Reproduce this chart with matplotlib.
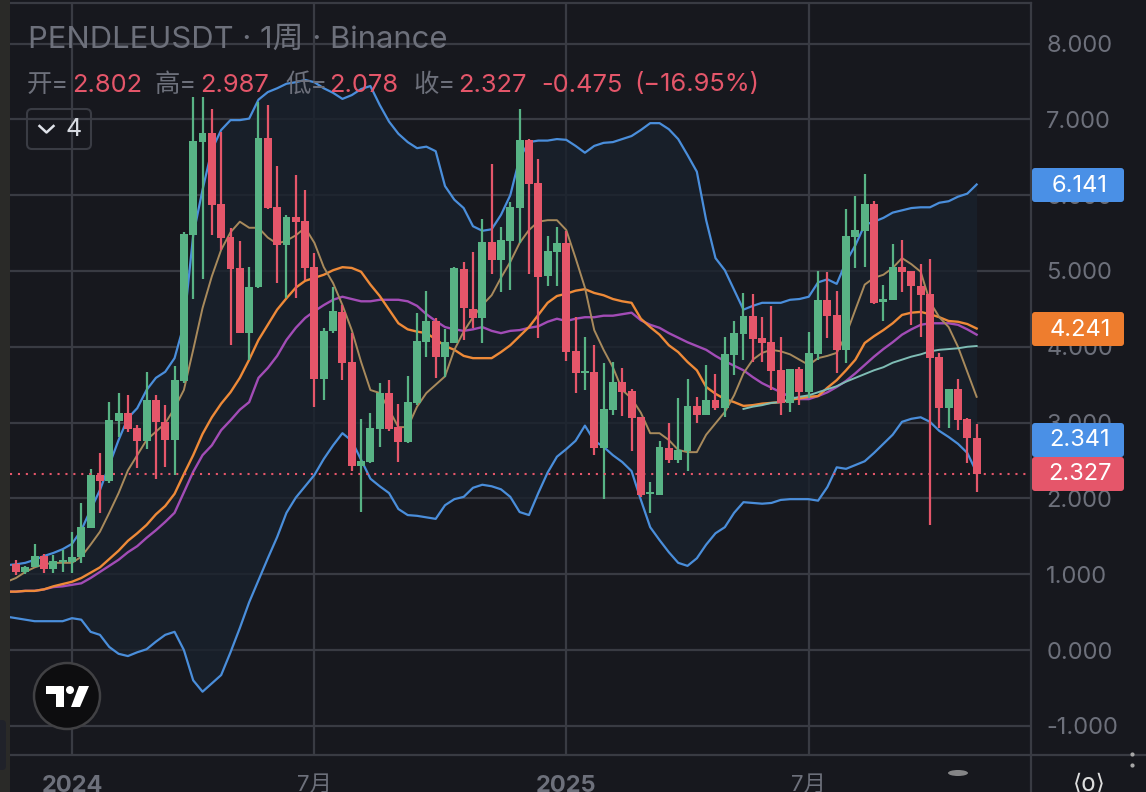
import matplotlib
matplotlib.use("Agg")
import matplotlib.pyplot as plt
import numpy as np
from matplotlib.patches import Circle, Ellipse, FancyBboxPatch, Polygon

plt.rcParams["font.family"] = ["Inter", "Noto Sans CJK SC", "DejaVu Sans"]

# weekly candles
opens = [1.13, 1.03, 1.09, 1.24, 1.07, 1.16, 1.16, 1.23, 1.61, 2.31,
         2.23, 3.02, 3.13, 2.93, 2.76, 3.30, 3.01, 2.77, 3.55, 5.47,
         6.70, 6.82, 5.88, 5.45, 5.04, 4.18, 4.79, 6.75, 5.84, 5.34,
         5.71, 5.66, 5.05, 3.58, 4.21, 4.46, 3.80, 2.43, 2.48, 2.92,
         3.39, 2.94, 2.74, 3.26, 4.06, 4.34, 3.87, 4.05, 5.03, 4.50,
         4.38, 5.38, 5.15, 5.40, 5.83, 6.73, 6.16, 4.93, 5.25, 5.37,
         3.94, 3.65, 3.67, 2.66, 3.17, 3.54, 3.42, 3.07, 2.06, 2.04,
         2.66, 2.51, 2.63, 3.22, 3.10, 3.30, 3.19, 3.89, 4.17, 4.41,
         4.12, 4.06, 3.69, 3.26, 3.71, 3.40, 3.90, 4.62, 4.42, 3.96,
         5.45, 5.53, 5.88, 4.59, 4.62, 5.05, 5.00, 4.80, 4.70, 3.87,
         3.19, 3.44, 3.05, 2.802]
highs = [1.19, 1.11, 1.40, 1.27, 1.25, 1.32, 1.56, 1.94, 2.39, 2.60,
         3.27, 3.39, 3.36, 2.97, 3.67, 3.36, 3.23, 3.75, 5.51, 7.30,
         7.30, 7.14, 6.83, 5.57, 5.39, 5.05, 7.23, 7.19, 6.39, 5.74,
         6.27, 6.07, 5.24, 4.25, 4.79, 4.55, 4.18, 3.05, 3.13, 3.52,
         3.56, 3.25, 3.61, 4.45, 4.74, 4.38, 4.23, 5.05, 5.12, 5.25,
         5.69, 6.41, 5.58, 5.91, 7.14, 6.74, 6.48, 5.46, 5.58, 5.53,
         4.39, 4.13, 4.02, 3.79, 3.80, 3.72, 3.44, 3.07, 2.22, 2.76,
         2.99, 3.32, 3.58, 3.34, 3.76, 3.64, 4.13, 4.34, 4.71, 4.70,
         4.39, 4.54, 4.13, 3.71, 3.73, 4.20, 5.00, 4.99, 4.74, 5.82,
         5.99, 6.28, 5.92, 4.82, 5.36, 5.41, 5.00, 5.09, 5.16, 3.92,
         3.44, 3.58, 3.06, 2.987]
lows = [0.99, 1.00, 1.09, 1.02, 1.02, 1.03, 1.02, 1.15, 1.61, 1.81,
        2.20, 2.81, 2.88, 2.40, 2.65, 2.26, 2.41, 2.31, 3.52, 4.63,
        4.89, 5.47, 5.28, 4.02, 4.18, 3.83, 4.78, 5.82, 4.84, 4.64,
        4.64, 4.88, 3.21, 3.30, 4.18, 3.56, 2.36, 1.82, 2.47, 2.68,
        2.89, 2.48, 2.73, 3.23, 3.87, 3.59, 3.60, 4.05, 4.09, 4.25,
        4.05, 4.96, 4.72, 4.75, 5.37, 4.96, 4.12, 4.80, 4.80, 3.81,
        3.39, 3.43, 2.57, 1.99, 3.10, 3.09, 2.63, 2.02, 1.81, 2.04,
        2.47, 2.47, 2.36, 2.99, 3.10, 3.17, 3.07, 3.63, 3.83, 3.80,
        3.80, 3.43, 3.10, 3.14, 3.23, 3.32, 3.83, 4.12, 3.65, 3.79,
        5.04, 5.05, 4.56, 4.34, 4.62, 4.72, 4.29, 4.13, 1.65, 2.93,
        2.93, 2.90, 2.47, 2.078]
closes = [1.03, 1.09, 1.24, 1.07, 1.17, 1.19, 1.23, 1.62, 2.31, 2.23,
          3.03, 3.13, 2.92, 2.76, 3.30, 3.01, 2.77, 3.56, 5.49, 6.72,
          6.82, 5.87, 5.44, 5.03, 4.18, 4.79, 6.75, 5.83, 5.34, 5.71,
          5.65, 5.04, 3.58, 4.21, 4.47, 3.79, 2.43, 2.49, 2.93, 3.39,
          2.92, 2.74, 3.27, 4.08, 4.34, 3.87, 4.06, 5.04, 4.51, 4.38,
          5.38, 5.15, 5.41, 5.84, 6.73, 6.15, 4.92, 5.26, 5.37, 3.93,
          3.65, 3.68, 2.66, 3.18, 3.54, 3.40, 3.06, 2.04, 2.08, 2.68,
          2.51, 2.64, 3.22, 3.10, 3.30, 3.19, 3.90, 4.18, 4.41, 4.10,
          4.05, 3.68, 3.26, 3.71, 3.40, 3.92, 4.62, 4.41, 3.96, 5.46,
          5.54, 5.88, 4.58, 4.63, 5.05, 4.99, 4.80, 4.68, 3.85, 3.19,
          3.44, 3.03, 2.80, 2.327]

# indicator lines, first value belongs to the week just off the left edge
bb_upper = [1.12,
            1.13, 1.15, 1.19, 1.24, 1.28, 1.33, 1.40, 1.58, 1.85, 2.11,
            2.44, 2.77, 3.06, 3.19, 3.43, 3.59, 3.67, 3.85, 4.29, 5.47,
            6.07, 6.60, 6.86, 6.99, 6.99, 7.01, 7.26, 7.36, 7.41, 7.47,
            7.49, 7.52, 7.49, 7.41, 7.35, 7.27, 7.32, 7.40, 7.44, 7.19,
            6.97, 6.81, 6.70, 6.62, 6.64, 6.58, 6.12, 5.94, 5.83, 5.59,
            5.53, 5.55, 5.74, 6.00, 6.49, 6.70, 6.72, 6.72, 6.74, 6.73,
            6.65, 6.56, 6.65, 6.69, 6.70, 6.74, 6.78, 6.86, 6.95, 6.95,
            6.87, 6.74, 6.53, 6.31, 5.67, 5.17, 5.01, 4.75, 4.49, 4.54,
            4.58, 4.58, 4.58, 4.62, 4.63, 4.66, 4.85, 4.89, 4.83, 5.12,
            5.34, 5.61, 5.65, 5.70, 5.77, 5.80, 5.83, 5.84, 5.84, 5.90,
            5.92, 5.98, 6.02, 6.141]
bb_lower = [0.44,
            0.42, 0.40, 0.38, 0.38, 0.38, 0.38, 0.42, 0.40, 0.24, 0.20,
            0.04, -0.05, -0.08, -0.03, 0.01, 0.11, 0.20, 0.24, 0.00, -0.40,
            -0.55, -0.44, -0.33, -0.03, 0.29, 0.63, 0.92, 1.21, 1.49, 1.81,
            2.01, 2.16, 2.31, 2.52, 2.70, 2.86, 2.76, 2.51, 2.26, 2.16,
            2.07, 1.86, 1.78, 1.77, 1.75, 1.73, 1.91, 1.99, 2.02, 2.14,
            2.18, 2.16, 2.12, 2.02, 1.82, 1.78, 2.07, 2.34, 2.55, 2.65,
            2.76, 2.96, 2.76, 2.68, 2.57, 2.48, 2.36, 1.98, 1.62, 1.45,
            1.29, 1.15, 1.11, 1.21, 1.39, 1.54, 1.62, 1.81, 1.95, 1.94,
            1.93, 1.94, 1.98, 1.99, 1.99, 1.99, 1.97, 2.15, 2.41, 2.39,
            2.44, 2.49, 2.60, 2.72, 2.84, 3.01, 3.05, 3.07, 3.01, 2.89,
            2.81, 2.72, 2.60, 2.341]
ma_orange = [0.77,
             0.77, 0.78, 0.78, 0.80, 0.84, 0.87, 0.90, 0.95, 1.02, 1.09,
             1.20, 1.31, 1.44, 1.54, 1.65, 1.79, 1.90, 2.06, 2.32, 2.57,
             2.85, 3.07, 3.25, 3.40, 3.59, 3.83, 4.09, 4.29, 4.49, 4.64,
             4.78, 4.87, 4.91, 4.95, 5.01, 5.05, 5.04, 4.99, 4.82, 4.67,
             4.49, 4.31, 4.23, 4.20, 4.18, 4.10, 4.01, 3.96, 3.88, 3.85,
             3.85, 3.85, 3.93, 4.02, 4.14, 4.26, 4.42, 4.58, 4.67, 4.70,
             4.74, 4.76, 4.71, 4.68, 4.63, 4.60, 4.58, 4.37, 4.26, 4.16,
             4.02, 3.93, 3.80, 3.69, 3.47, 3.38, 3.31, 3.27, 3.22, 3.23,
             3.25, 3.26, 3.27, 3.30, 3.32, 3.34, 3.35, 3.46, 3.56, 3.69,
             3.83, 4.05, 4.14, 4.22, 4.31, 4.42, 4.45, 4.46, 4.43, 4.39,
             4.34, 4.33, 4.30, 4.241]
ma_purple = [0.77,
             0.77, 0.78, 0.78, 0.80, 0.83, 0.84, 0.86, 0.88, 0.95, 1.03,
             1.11, 1.19, 1.29, 1.37, 1.48, 1.58, 1.69, 1.81, 2.08, 2.35,
             2.57, 2.70, 2.90, 3.03, 3.17, 3.27, 3.59, 3.72, 3.88, 4.09,
             4.25, 4.38, 4.47, 4.55, 4.62, 4.66, 4.63, 4.60, 4.60, 4.62,
             4.62, 4.62, 4.60, 4.54, 4.43, 4.34, 4.26, 4.23, 4.21, 4.23,
             4.26, 4.21, 4.18, 4.21, 4.22, 4.25, 4.27, 4.33, 4.37, 4.34,
             4.37, 4.39, 4.39, 4.41, 4.41, 4.43, 4.45, 4.35, 4.29, 4.25,
             4.18, 4.12, 4.06, 4.01, 3.96, 3.88, 3.81, 3.75, 3.69, 3.60,
             3.52, 3.46, 3.40, 3.34, 3.31, 3.31, 3.35, 3.40, 3.47, 3.55,
             3.65, 3.76, 3.87, 3.97, 4.06, 4.16, 4.23, 4.29, 4.31, 4.31,
             4.31, 4.29, 4.23, 4.16]
ma_tan = [0.90,
          0.95, 1.03, 1.09, 1.13, 1.15, 1.15, 1.15, 1.23, 1.39, 1.56,
          1.81, 2.07, 2.37, 2.57, 2.77, 2.88, 2.99, 3.19, 3.43, 3.96,
          4.51, 4.93, 5.28, 5.51, 5.65, 5.57, 5.57, 5.44, 5.36, 5.40,
          5.47, 5.57, 5.37, 5.05, 4.84, 4.55, 4.22, 3.80, 3.43, 3.39,
          3.17, 2.94, 2.94, 3.21, 3.39, 3.50, 3.61, 3.96, 4.20, 4.39,
          4.55, 4.68, 4.91, 5.12, 5.37, 5.54, 5.65, 5.67, 5.67, 5.54,
          5.17, 4.78, 4.22, 3.96, 3.73, 3.43, 3.32, 3.13, 2.86, 2.86,
          2.77, 2.64, 2.61, 2.61, 2.84, 2.99, 3.14, 3.36, 3.65, 3.83,
          3.92, 3.96, 3.94, 3.90, 3.83, 3.76, 3.85, 3.88, 3.92, 4.16,
          4.49, 4.82, 4.91, 4.95, 5.04, 5.17, 5.09, 4.99, 4.59, 4.39,
          4.26, 4.00, 3.67, 3.34]
ma_teal = [3.18, 3.21, 3.23, 3.26, 3.27, 3.31, 3.34, 3.36, 3.40, 3.44,
           3.48, 3.54, 3.59, 3.64, 3.69, 3.73, 3.79, 3.83, 3.87, 3.90,
           3.94, 3.96, 3.97, 3.98, 4.00, 4.01]
teal_start = 78

price_ticks = [-1, 0, 1, 2, 3, 4, 5, 6, 7, 8]
date_ticks = [6, 32, 59, 85]
date_labels = ["2024", "7月", "2025", "7月"]
last_close = 2.327

BG = "#17181e"
GRID = "#393b43"
BAND = "#19212c"
GREEN = "#58b385"
RED = "#e5566a"
BLUE = "#4a8edb"
ORANGE = "#ee8a38"
PURPLE = "#a24cb6"
TAN = "#a88a5c"
TEAL = "#7fbdb5"
MUTED = "#6d707b"

W, H = 1146, 792
fig = plt.figure(figsize=(W / 100, H / 100), dpi=100, facecolor=BG)

# main panel, pixel box 10..1031 x 3..755
ax = fig.add_axes([10 / W, 1 - 755 / H, 1021 / W, 752 / H], facecolor=BG)
ax.set_xlim(-0.643, 108.83)
ax.set_ylim(-1.385, 8.535)

ax.set_axisbelow(True)
ax.grid(True, color=GRID, linewidth=1.6)

x = np.arange(len(opens))
x_line = np.arange(-1, len(opens))

ax.fill_between(x_line, bb_lower, bb_upper, color=BAND, linewidth=0, alpha=0.8, zorder=1)

ax.plot(x_line, ma_purple, color=PURPLE, linewidth=1.7, zorder=2)
ax.plot(x_line, ma_orange, color=ORANGE, linewidth=1.7, zorder=2)
ax.plot(x_line, ma_tan, color=TAN, linewidth=1.4, zorder=2)
ax.plot(x_line, bb_upper, color=BLUE, linewidth=1.6, zorder=2)
ax.plot(x_line, bb_lower, color=BLUE, linewidth=1.6, zorder=2)
ax.plot(np.arange(teal_start, teal_start + len(ma_teal)), ma_teal, color=TEAL, linewidth=1.4, zorder=2)

# candles
o = np.array(opens)
c = np.array(closes)
colors = [GREEN if up else RED for up in c >= o]
ax.vlines(x, lows, highs, colors=colors, linewidth=1.6, zorder=3)
ax.bar(x, np.maximum(np.abs(c - o), 0.02), bottom=np.minimum(o, c), width=0.85,
       color=colors, linewidth=0, zorder=4)

ax.axhline(last_close, color=RED, linewidth=1.5, linestyle=(0, (1, 2.8)), zorder=3)

ax.set_xticks(date_ticks)
ax.set_xticklabels(date_labels)
ax.set_yticks(price_ticks)
ax.set_yticklabels([f"{v:.3f}" for v in price_ticks])
ax.yaxis.tick_right()
ax.tick_params(axis="y", length=0, pad=11, labelsize=17, labelcolor=MUTED)
ax.tick_params(axis="x", length=0, pad=14.5, labelsize=16, labelcolor=MUTED)
for lab in ax.get_xticklabels():
    if lab.get_text().startswith("20"):
        lab.set_fontweight("bold")
        lab.set_fontsize(17)

for name in ["left", "top", "right", "bottom"]:
    ax.spines[name].set_color(GRID)
    ax.spines[name].set_linewidth(1.6)
ax.spines["left"].set_visible(False)

# overlay in pixels for the header, price badges and logo
over = fig.add_axes([0, 0, 1, 1], facecolor="none")
over.set_xlim(0, W)
over.set_ylim(H, 0)
over.axis("off")

over.fill_between([0, 10], 0, H, color="#2a2a28", linewidth=0)
over.plot([1031, 1031], [755, H], color=GRID, linewidth=1.6)
over.plot([1031, W], [755, 755], color=GRID, linewidth=1.6)

over.text(28, 40, "PENDLEUSDT · 1周 · Binance", fontsize=22.3, color=MUTED, va="center", ha="left")

header = [(27, "开=", MUTED), (72, "2.802", RED), (155, "高=", MUTED), (200, "2.987", RED),
          (285, "低=", MUTED), (329, "2.078", RED), (413, "收=", MUTED), (458, "2.327", RED),
          (541, "-0.475", RED), (634, "(−16.95%)", RED)]
for px, txt, col in header:
    over.text(px, 85, txt, fontsize=18.3, color=col, va="center", ha="left")

# collapse button
over.add_patch(FancyBboxPatch((27, 109), 64, 40, boxstyle="round,pad=0,rounding_size=5",
                              facecolor="none", edgecolor="#3a3c44", linewidth=1.5))
over.plot([39.5, 46.5, 53.5], [126, 132.5, 126], color="#e0e3ea", linewidth=1.8)
over.text(73.5, 130, "4", fontsize=18, color="#d8dbe2", va="center", ha="center")

# price badges, covering the axis labels
badges = [(168, "6.141", "#4a90e6"), (312, "4.241", "#ee7d2e"),
          (423, "2.341", "#4a90e6"), (457, "2.327", "#e5566a")]
for top, txt, col in badges:
    over.add_patch(FancyBboxPatch((1032, top), 92, 34, boxstyle="round,pad=0,rounding_size=3",
                                  facecolor=col, edgecolor="none", zorder=5))
    over.text(1080, top + 17.5, txt, fontsize=17, color="white", va="center", ha="center", zorder=6)

# logo
over.add_patch(Circle((67, 696), 33, facecolor="#0d0d0f", edgecolor="#414144", linewidth=1.8))
over.add_patch(Polygon([(46, 686), (64, 686), (64, 707), (56, 707), (56, 694), (46, 694)],
                       facecolor="white", edgecolor="none"))
over.add_patch(Circle((70, 690), 4, facecolor="white", edgecolor="none"))
over.add_patch(Polygon([(79, 686), (89, 686), (80, 707), (71, 707)], facecolor="white", edgecolor="none"))

# left edge handle and the smudged watermark at the bottom right
over.add_patch(FancyBboxPatch((-6, 720), 12, 50, boxstyle="round,pad=0,rounding_size=4",
                              facecolor="#20222a", edgecolor="none"))
over.add_patch(Ellipse((958, 773), 20, 6, facecolor="#b5b5b5", edgecolor="none", alpha=0.7))
over.plot([1132, 1132], [754, 765], linestyle="none", marker="o", markersize=2, color="#a8a8a8")
over.text(1089, 784, "⟨o⟩", fontsize=17, color="#dddddd", va="center", ha="center",
          family=["DejaVu Sans"])

fig.savefig("out.png", dpi=100, facecolor=BG)
